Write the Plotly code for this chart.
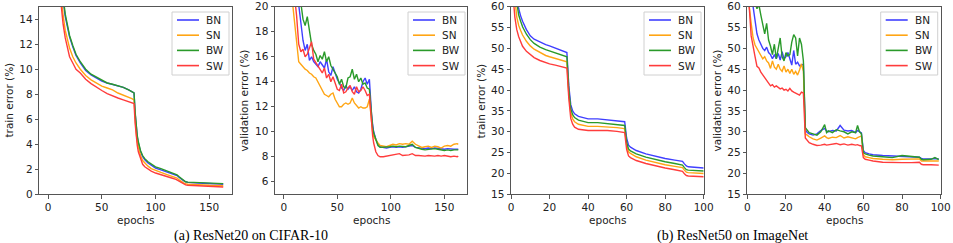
import plotly.graph_objects as go

W, H = 953, 243

series_names = ["BN", "SN", "BW", "SW"]
colors = {"BN": "#3f3fff", "SN": "#ffa514", "BW": "#2a9a2a", "SW": "#ff3c3c"}

# ---------- (a) ResNet20 on CIFAR-10: train error ----------
ep_a_train = [0, 4, 8, 10, 12, 14, 16, 18, 20, 23, 26, 30, 35, 40, 45, 50, 55, 60, 65, 70, 75, 78, 80,
              81, 82, 83, 84, 86, 88, 90, 93, 96, 100, 105, 110, 115, 119, 120, 122, 124, 126, 128,
              130, 135, 140, 150, 160, 163]
a_train_BN = [60, 35, 22, 19, 17.0, 15.5, 14.2, 13.3, 12.6, 11.8, 11.1, 10.5, 9.9, 9.55, 9.3, 9.05, 8.9, 8.8,
              8.65, 8.55, 8.35, 8.2, 8.1,
              6.5, 5.3, 4.6, 4.1, 3.4, 3.0, 2.75, 2.5, 2.3, 2.1, 1.95, 1.8, 1.65, 1.55, 1.5, 1.35, 1.2, 1.1, 1.0,
              0.95, 0.92, 0.9, 0.85, 0.82, 0.8]
a_train_BW = [60, 35, 22.5, 19.5, 17.3, 15.8, 14.4, 13.4, 12.7, 11.9, 11.2, 10.6, 10.0, 9.6, 9.35, 9.1, 8.9, 8.8,
              8.7, 8.55, 8.35, 8.2, 8.1,
              6.6, 5.4, 4.7, 4.2, 3.5, 3.1, 2.85, 2.6, 2.4, 2.2, 2.05, 1.9, 1.75, 1.6, 1.55, 1.4, 1.25, 1.1, 1.0,
              0.97, 0.95, 0.92, 0.9, 0.86, 0.85]
a_train_SN = [58, 33, 21, 18, 15.8, 14.3, 13.1, 12.3, 11.7, 11.0, 10.5, 10.0, 9.5, 9.15, 8.9, 8.65, 8.5, 8.35,
              8.1, 7.95, 7.75, 7.65, 7.55,
              6.0, 4.9, 4.2, 3.8, 3.1, 2.7, 2.5, 2.25, 2.05, 1.9, 1.75, 1.6, 1.45, 1.35, 1.3, 1.15, 1.0, 0.92, 0.85,
              0.8, 0.78, 0.75, 0.72, 0.7, 0.68]
a_train_SW = [55, 30, 20, 17, 15.0, 13.6, 12.5, 11.6, 11.0, 10.5, 10.0, 9.7, 9.2, 8.85, 8.55, 8.3, 8.05, 7.85,
              7.7, 7.55, 7.4, 7.3, 7.25,
              5.7, 4.6, 3.9, 3.4, 2.8, 2.4, 2.2, 2.0, 1.85, 1.7, 1.55, 1.4, 1.3, 1.2, 1.15, 1.0, 0.9, 0.8, 0.75,
              0.72, 0.7, 0.65, 0.62, 0.6, 0.58]

# ---------- (a) ResNet20 on CIFAR-10: validation error ----------
ep_a_val = list(range(0, 81, 2)) + [81, 82, 83, 84, 86, 88] + list(range(90, 163, 3)) + [163]
a_val_BN = [45, 38, 32, 28, 25, 23, 21.5, 20.4, 18.6, 17.3, 16.5, 17.0, 15.7, 16.0, 15.6, 15.4, 15.2, 15.6, 15.3,
            15.1, 15.8, 14.8, 14.5, 15.2, 14.7, 14.2, 13.9, 13.5, 13.3, 13.7, 13.4, 13.6, 13.3, 13.6, 13.2, 13.1,
            13.4, 14.0, 14.3, 13.8, 14.2,
            12.6, 11.4, 10.6, 10.0, 9.4, 9.0,
            8.8, 8.75, 8.7, 8.75, 8.8, 8.75, 8.8, 8.75, 8.8, 8.8, 8.9, 8.75, 8.7, 8.65, 8.65, 8.7, 8.65, 8.7, 8.65,
            8.65, 8.6, 8.65, 8.6, 8.6, 8.6, 8.6]
a_val_SN = [40, 32, 27, 23, 20.5, 18.7, 17.0, 15.6, 15.4, 15.2, 15.0, 14.9, 14.7, 14.6, 14.4, 14.3, 14.0, 13.7,
            13.4, 13.0, 12.9, 12.8, 13.0, 13.1, 12.6, 12.3, 12.0, 12.0, 12.2, 12.3, 12.2, 12.3, 12.7, 12.3, 12.1,
            11.9, 12.0, 11.9, 11.9, 12.0, 12.6,
            11.5, 10.6, 10.0, 9.6, 9.3, 9.1,
            8.9, 8.85, 8.8, 8.9, 9.0, 8.95, 9.05, 9.0, 9.05, 9.0, 9.25, 9.0, 8.9, 8.75, 8.8, 8.85, 8.75, 8.85, 8.8,
            8.7, 8.85, 8.9, 8.85, 9.0, 9.05, 9.0]
a_val_BW = [48, 40, 35, 31, 28, 26, 24, 22, 20.3, 19.0, 18.5, 19.2, 18.0, 17.0, 16.5, 16.2, 15.6, 16.1, 15.8,
            16.4, 15.6, 16.0, 15.3, 15.0, 14.8, 14.4, 13.8, 14.2, 13.6, 13.5, 14.3, 14.4, 15.0, 14.2, 14.6, 14.0,
            14.3, 13.8, 13.9, 13.5, 13.4,
            12.2, 11.1, 10.4, 9.9, 9.3, 8.9,
            8.75, 8.75, 8.8, 8.8, 8.85, 8.8, 8.85, 8.8, 8.8, 8.9, 9.0, 8.75, 8.65, 8.6, 8.55, 8.6, 8.6, 8.65, 8.6,
            8.55, 8.5, 8.55, 8.5, 8.55, 8.55, 8.55]
a_val_SW = [38, 30, 26, 24, 22.5, 21.0, 19.3, 17.0, 16.4, 16.6, 16.0, 16.2, 16.8, 17.2, 15.8, 15.5, 15.2, 14.9,
            14.7, 15.1, 14.3, 14.6, 14.0, 14.4, 13.9, 13.4, 13.3, 13.8, 13.1, 13.2, 13.5, 13.7, 13.2, 13.0, 13.6,
            13.2, 13.3, 13.6, 13.3, 12.9, 13.0,
            11.8, 10.6, 9.7, 9.1, 8.4, 8.1,
            8.0, 8.0, 8.05, 8.1, 8.1, 8.15, 8.25, 8.1, 8.1, 8.15, 8.25, 8.1, 8.1, 8.05, 8.05, 8.1, 8.05, 8.05, 8.1,
            8.05, 8.1, 8.05, 8.0, 8.05, 8.0, 8.05]

# ---------- (b) ResNet50 on ImageNet: train error ----------
ep_b_train = [0, 1, 2, 3, 4, 5, 6, 8, 10, 12, 15, 18, 20, 23, 26, 28, 29, 30, 31, 32, 33, 35, 38, 40, 45, 50,
              55, 58, 59, 60, 61, 62, 63, 65, 70, 75, 80, 85, 88, 89, 90, 91, 92, 95, 100]
b_train_BN = [90, 78, 68, 62.5, 59.5, 57.8, 56.5, 54.5, 53.0, 52.2, 51.5, 50.9, 50.6, 50.1, 49.6, 49.2, 49.0,
              41, 36.5, 35.0, 34.3, 33.7, 33.3, 33.1, 33.1, 32.9, 32.7, 32.5, 32.4,
              28.5, 26.8, 26.3, 26.0, 25.5, 24.7, 24.1, 23.6, 23.2, 23.0, 22.9, 22.3, 21.8, 21.6, 21.5, 21.3]
b_train_BW = [88, 76, 66, 61, 58, 56.5, 55.2, 53.4, 52.1, 51.2, 50.3, 49.7, 49.4, 48.9, 48.4, 48.1, 48.0,
              40, 35.5, 34.1, 33.4, 32.8, 32.4, 32.2, 32.2, 32.0, 31.8, 31.6, 31.5,
              27.5, 25.9, 25.4, 25.1, 24.7, 23.9, 23.3, 22.8, 22.4, 22.1, 22.0, 21.4, 20.9, 20.8, 20.7, 20.6]
b_train_SN = [86, 74, 62, 57.5, 55.5, 54.3, 53.2, 51.7, 50.6, 49.8, 49.0, 48.3, 48.0, 47.6, 47.2, 46.9, 46.8,
              39, 34.5, 33.1, 32.4, 31.8, 31.4, 31.3, 31.3, 31.2, 31.0, 30.8, 30.7,
              26.8, 25.2, 24.8, 24.5, 24.0, 23.2, 22.6, 22.1, 21.7, 21.5, 21.4, 20.8, 20.3, 20.2, 20.1, 20.0]
b_train_SW = [82, 63, 57.5, 54.5, 52.8, 51.6, 50.5, 49.3, 48.5, 47.8, 47.1, 46.6, 46.3, 46.0, 45.6, 45.4, 45.3,
              38, 33.2, 31.8, 31.1, 30.6, 30.4, 30.3, 30.3, 30.3, 30.1, 29.9, 29.8,
              25.8, 24.2, 23.8, 23.5, 23.1, 22.4, 21.8, 21.3, 20.9, 20.6, 20.5, 19.9, 19.5, 19.4, 19.3, 19.2]

# ---------- (b) ResNet50 on ImageNet: validation error ----------
ep_b_val = list(range(0, 30)) + [30, 31, 32, 34, 36, 38, 40, 41, 42, 44, 46, 48, 50, 52, 54, 56, 57, 58, 59,
                                 60, 61, 63, 65, 70, 75, 80, 85, 89, 90, 91, 95, 97, 99]
b_val_BN = [80, 70, 64, 60, 57, 53.5, 52.0, 51.0, 50.0, 49.5, 50.3, 49.0, 48.5, 47.5, 48.5, 47.5, 48.8, 47.2,
            49.2, 47.5, 48.0, 49.0, 47.5, 46.0, 49.5, 46.2, 46.7, 45.8, 46.0, 46.2,
            30.5, 29.8, 29.5, 29.2, 29.5, 30.3, 30.8, 30.2, 30.0, 30.3, 30.2, 31.5, 30.4, 30.2, 30.3, 29.8, 30.3,
            30.0, 29.7, 25.5, 25.0, 24.7, 24.5, 24.3, 24.2, 24.0, 24.0, 23.9, 23.6, 23.5, 23.5, 23.6, 23.5]
b_val_SN = [72, 60, 56, 52.5, 50.8, 50.0, 49.0, 48.5, 47.5, 48.0, 47.0, 46.5, 45.2, 47.0, 45.5, 45.0, 46.2, 45.0,
            44.5, 45.8, 44.3, 45.0, 44.0, 45.0, 43.8, 44.5, 43.6, 44.8, 46.3, 44.5,
            29.5, 29.2, 28.8, 28.3, 28.0, 28.5, 29.0, 28.6, 28.4, 28.7, 28.6, 29.1, 28.5, 28.8, 28.5, 28.3, 28.6,
            28.8, 29.0, 24.5, 24.0, 23.8, 23.6, 23.4, 23.3, 23.4, 23.4, 23.5, 23.0, 23.0, 23.0, 23.1, 23.0]
b_val_BW = [85, 75, 68, 64, 61, 59.5, 60.5, 58.0, 55.5, 53.5, 56.0, 52.0, 50.5, 48.5, 51.0, 47.5, 50.0, 52.5,
            48.0, 47.0, 49.0, 48.2, 48.5, 51.5, 53.3, 52.5, 48.2, 52.5, 51.0, 47.0,
            31.0, 30.3, 29.8, 29.5, 29.2, 30.0, 31.7, 29.8, 30.2, 29.8, 30.5, 30.2, 30.0, 29.5, 30.0, 29.8, 31.5,
            30.0, 29.5, 25.0, 24.7, 24.4, 24.2, 24.0, 23.8, 24.3, 24.0, 23.9, 23.4, 23.3, 23.4, 23.8, 23.3]
b_val_SW = [75, 60, 53, 50, 48, 45.7, 45.3, 44.3, 43.6, 43.0, 42.5, 41.8, 41.0, 41.3, 40.7, 41.0, 40.6, 40.3,
            40.5, 40.0, 40.2, 39.8, 40.4, 39.8, 39.5, 39.2, 39.0, 38.8, 39.5, 39.3,
            28.5, 27.8, 27.4, 27.0, 26.7, 26.8, 27.0, 26.8, 26.9, 27.0, 27.2, 26.9, 27.1, 26.8, 27.0, 26.8, 26.9,
            26.7, 26.6, 23.8, 23.4, 23.2, 23.0, 22.7, 22.6, 22.6, 22.6, 22.7, 22.2, 22.1, 22.1, 22.1, 22.0]

panels = [
    (ep_a_train, {"BN": a_train_BN, "SN": a_train_SN, "BW": a_train_BW, "SW": a_train_SW}),
    (ep_a_val, {"BN": a_val_BN, "SN": a_val_SN, "BW": a_val_BW, "SW": a_val_SW}),
    (ep_b_train, {"BN": b_train_BN, "SN": b_train_SN, "BW": b_train_BW, "SW": b_train_SW}),
    (ep_b_val, {"BN": b_val_BN, "SN": b_val_SN, "BW": b_val_BW, "SW": b_val_SW}),
]
y_titles = ["train error (%)", "validation error (%)", "train error (%)", "validation error (%)"]
x_ranges = [[-8.15, 171.15], [-8.15, 171.15], [0, 100], [0, 100]]
y_ranges = [[0, 15], [5, 20], [15, 60], [15, 60]]
x_ticks = [[0, 50, 100, 150], [0, 50, 100, 150], [0, 20, 40, 60, 80, 100], [0, 20, 40, 60, 80, 100]]
y_ticks = [list(range(0, 15, 2)), list(range(6, 21, 2)), list(range(15, 61, 5)), list(range(15, 61, 5))]
captions = ["(a) ResNet20 on CIFAR-10", "(b) ResNet50 on ImageNet"]

# pixel layout
px_x = [(39.3, 232.0), (275.0, 467.0), (511.0, 703.7), (747.3, 940.7)]
py_top, py_bot = 6.7, 194.3
ydom = [1 - py_bot / H, 1 - py_top / H]
ytitle_x = [8, 243, 480, 716]
legend_left = [172, 408, 644, 880.7]
leg_w, leg_top, leg_bot = 57, 12, 75
leg_rows = [20, 35.2, 50.4, 65.6]

fig = go.Figure()
axis_col = "#555555"
tick_font = dict(family="DejaVu Sans", size=10.5, color="#222222")
shapes, annots = [], []

for i, (ep, data) in enumerate(panels):
    sfx = "" if i == 0 else str(i + 1)
    for name in series_names:
        fig.add_trace(go.Scatter(
            x=ep, y=data[name], mode="lines", name=name,
            line=dict(color=colors[name], width=1.4),
            xaxis="x" + sfx, yaxis="y" + sfx,
            showlegend=False, hoverinfo="skip"))
    dom = [px_x[i][0] / W, px_x[i][1] / W]
    common = dict(showline=True, linecolor=axis_col, linewidth=1, mirror=True,
                  ticks="outside", ticklen=3.5, tickcolor=axis_col, tickwidth=1,
                  showgrid=False, zeroline=False, tickfont=tick_font, automargin=False)
    fig.layout["xaxis" + sfx] = dict(domain=dom, range=x_ranges[i], tickvals=x_ticks[i],
                                     anchor="y" + sfx, **common)
    fig.layout["yaxis" + sfx] = dict(domain=ydom, range=y_ranges[i], tickvals=y_ticks[i],
                                     anchor="x" + sfx, **common)
    # axis titles
    annots.append(dict(text="epochs", x=(px_x[i][0] + px_x[i][1]) / 2 / W, y=1 - 220 / H,
                       xref="paper", yref="paper", xanchor="center", yanchor="middle",
                       showarrow=False, font=tick_font))
    annots.append(dict(text=y_titles[i], x=ytitle_x[i] / W, y=1 - (py_top + py_bot) / 2 / H,
                       xref="paper", yref="paper", xanchor="center", yanchor="middle",
                       textangle=-90, showarrow=False, font=tick_font))
    # legend box (drawn in paper coordinates)
    lx = legend_left[i]
    shapes.append(dict(type="rect", xref="paper", yref="paper",
                       x0=lx / W, x1=(lx + leg_w) / W, y0=1 - leg_bot / H, y1=1 - leg_top / H,
                       line=dict(color="#d0d0d0", width=1), fillcolor="white", layer="above"))
    for name, ry in zip(series_names, leg_rows):
        shapes.append(dict(type="line", xref="paper", yref="paper",
                           x0=(lx + 5) / W, x1=(lx + 27) / W, y0=1 - ry / H, y1=1 - ry / H,
                           line=dict(color=colors[name], width=1.6), layer="above"))
        annots.append(dict(text=name, x=(lx + 32) / W, y=1 - ry / H, xref="paper", yref="paper",
                           xanchor="left", yanchor="middle", showarrow=False,
                           font=dict(family="DejaVu Sans", size=10.5, color="#222222")))

annots.append(dict(text=captions[0], x=251 / W, y=1 - 235.5 / H, xref="paper", yref="paper",
                   xanchor="center", yanchor="middle", showarrow=False,
                   font=dict(family="Liberation Serif", size=14, color="black")))
annots.append(dict(text=captions[1], x=732.5 / W, y=1 - 235.5 / H, xref="paper", yref="paper",
                   xanchor="center", yanchor="middle", showarrow=False,
                   font=dict(family="Liberation Serif", size=14, color="black")))

fig.update_layout(width=W, height=H, margin=dict(l=0, r=0, t=0, b=0, autoexpand=False),
                  plot_bgcolor="white", paper_bgcolor="white",
                  shapes=shapes, annotations=annots)

fig.write_html("out.html", post_script="document.body.style.margin='0px';",
               config={"displayModeBar": False})
